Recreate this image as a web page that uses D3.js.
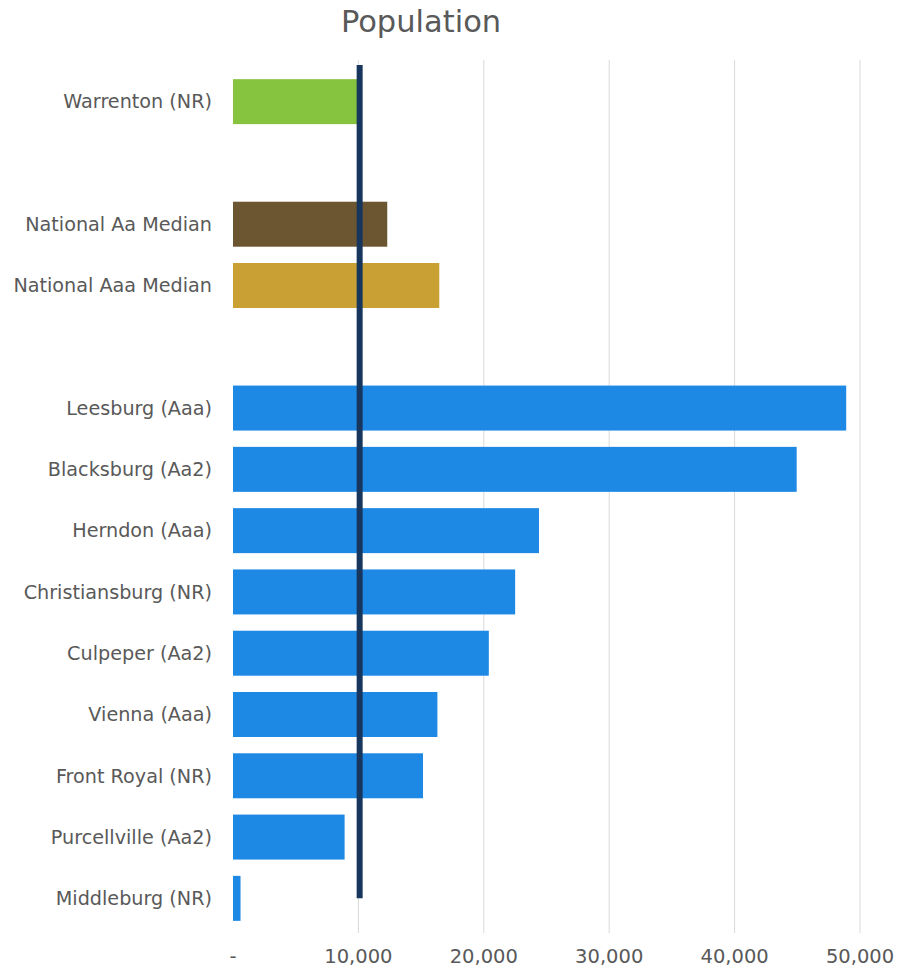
<!DOCTYPE html>
<html>
<head>
<meta charset="utf-8">
<script src="https://cdn.jsdelivr.net/npm/d3@7"></script>
<style>
  html, body { margin: 0; padding: 0; background: #ffffff; }
  svg { display: block; }
  text { font-family: "DejaVu Sans", Verdana, sans-serif; fill: #595959; }
</style>
</head>
<body>
<svg id="chart" width="907" height="968"></svg>
<script>
// Rows top to bottom; blank names are spacer rows between groups
const categories = [
  "Warrenton (NR)", "", "National Aa Median", "National Aaa Median", " ",
  "Leesburg (Aaa)", "Blacksburg (Aa2)", "Herndon (Aaa)", "Christiansburg (NR)",
  "Culpeper (Aa2)", "Vienna (Aaa)", "Front Royal (NR)", "Purcellville (Aa2)",
  "Middleburg (NR)"
];
const populations = [
  9900, null, 12300, 16450, null,
  48900, 44950, 24400, 22500,
  20400, 16300, 15150, 8900,
  600
];
const barGroups = [
  "subject", null, "aa", "aaa", null,
  "peer", "peer", "peer", "peer",
  "peer", "peer", "peer", "peer",
  "peer"
];
const referenceValue = 10100;
const xTicks = [0, 10000, 20000, 30000, 40000, 50000];
const xTickLabels = ["-", "10,000", "20,000", "30,000", "40,000", "50,000"];

const groupColors = {
  subject: "#86c440",
  aa: "#6b5631",
  aaa: "#c9a033",
  peer: "#1e88e5"
};

const svg = d3.select("#chart");

const x = d3.scaleLinear().domain([0, 50000]).range([233, 860]);
const y = d3.scaleBand()
  .domain(categories)
  .range([71, 929])
  .paddingInner(0.266)
  .paddingOuter(0.133);

// Title
svg.append("text")
  .attr("x", 421)
  .attr("y", 32)
  .attr("text-anchor", "middle")
  .style("font-size", "30.5px")
  .style("font-weight", "500")
  .text("Population");

// Vertical gridlines
svg.append("g")
  .selectAll("line")
  .data(xTicks.slice(1))
  .join("line")
  .attr("x1", d => x(d))
  .attr("x2", d => x(d))
  .attr("y1", 60)
  .attr("y2", 933)
  .attr("stroke", "#d9d9d9")
  .attr("stroke-width", 1);

// Bars
const rows = categories.map((c, i) => ({ c, v: populations[i], g: barGroups[i] }));
svg.append("g")
  .selectAll("rect")
  .data(rows.filter(d => d.v !== null))
  .join("rect")
  .attr("x", x(0))
  .attr("y", d => y(d.c))
  .attr("width", d => x(d.v) - x(0))
  .attr("height", y.bandwidth())
  .attr("fill", d => groupColors[d.g]);

// Reference line
const lastCat = categories[categories.length - 1];
svg.append("line")
  .attr("x1", x(referenceValue))
  .attr("x2", x(referenceValue))
  .attr("y1", y.range()[0] - 6)
  .attr("y2", y(lastCat) + y.bandwidth() / 2)
  .attr("stroke", "#17365d")
  .attr("stroke-width", 6);

// Category labels
svg.append("g")
  .selectAll("text")
  .data(rows.filter(d => d.c.trim() !== ""))
  .join("text")
  .attr("x", 212)
  .attr("y", d => y(d.c) + y.bandwidth() / 2)
  .attr("dy", "0.35em")
  .attr("text-anchor", "end")
  .style("font-size", "19.2px")
  .text(d => d.c);

// X axis tick labels
svg.append("g")
  .selectAll("text")
  .data(xTicks)
  .join("text")
  .attr("x", d => x(d))
  .attr("y", 963)
  .attr("text-anchor", "middle")
  .style("font-size", "19.5px")
  .text((d, i) => xTickLabels[i]);
</script>
</body>
</html>
